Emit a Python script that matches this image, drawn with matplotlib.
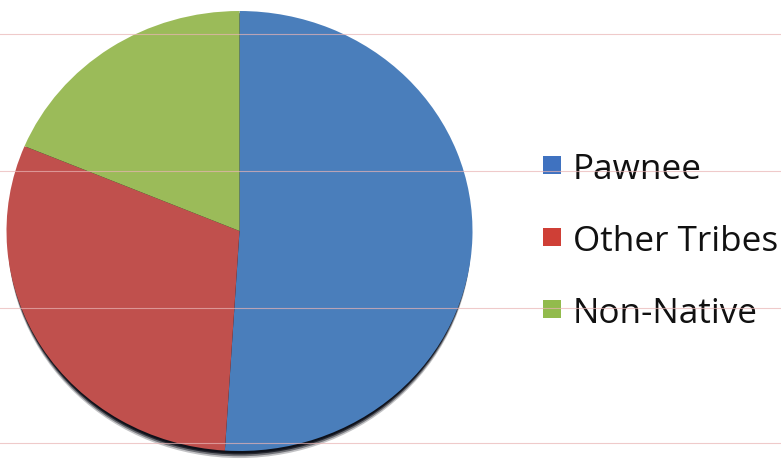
import matplotlib
matplotlib.use("Agg")
import matplotlib.pyplot as plt
from matplotlib.patches import Ellipse, Rectangle
from matplotlib.lines import Line2D

labels = ["Pawnee", "Other Tribes", "Non-Native"]
values = [51.0, 30.3, 18.7]
colors = ["#4a7ebb", "#c0504d", "#9bbb59"]
legend_colors = ["#3f72c0", "#cf3f36", "#92bb4c"]

W, H = 781, 461
fig = plt.figure(figsize=(W / 100, H / 100), dpi=100)
fig.patch.set_facecolor("white")

# pie axes: ellipse box in pixel coords (left 6.5, right 472.5, top 11, bottom 451)
L, R, T, B = 6.5, 472.5, 11, 451
ax = fig.add_axes([L / W, (H - B) / H, (R - L) / W, (B - T) / H])
ax.axis("off")

# shadow at the bottom of the disc
for off, a in [(0.032, 0.25), (0.024, 0.45), (0.016, 0.75), (0.010, 0.95)]:
    ax.add_patch(Ellipse((0, -off), 1.99, 2.0, facecolor="#0c0f18",
                         edgecolor="none", alpha=a, zorder=1, clip_on=False))

wedges, _ = ax.pie(values, colors=colors, startangle=90, counterclock=False,
                   radius=1.0, wedgeprops=dict(linewidth=0))
for w in wedges:
    w.set_zorder(2)
ax.set_xlim(-1, 1)
ax.set_ylim(-1, 1)
ax.set_aspect("auto")

# faint scan lines
for yp in [34, 171, 308, 443]:
    fig.add_artist(Line2D([0, 1], [1 - yp / H, 1 - yp / H], transform=fig.transFigure,
                          color="#e9b4b4", linewidth=0.8, alpha=0.7, zorder=5))

# legend
baselines = [179, 251, 323]
for lab, col, yb in zip(labels, legend_colors, baselines):
    sq = 18
    cy = yb - 14
    fig.add_artist(Rectangle((543 / W, 1 - (cy + sq / 2) / H), sq / W, sq / H,
                             transform=fig.transFigure, facecolor=col, edgecolor="none", zorder=4))
    fig.text(573 / W, 1 - yb / H, lab, fontsize=25.3, family="Open Sans",
             color="#111111", va="baseline", ha="left", zorder=4)

fig.savefig("out.png", dpi=100, facecolor="white")
